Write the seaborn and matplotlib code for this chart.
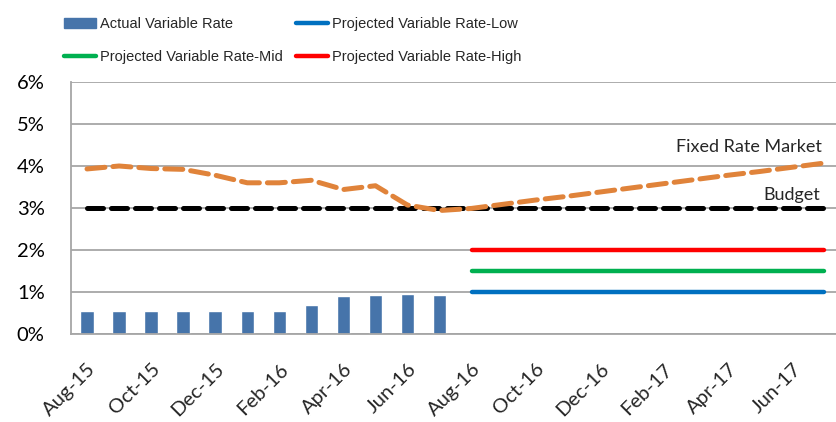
"""Variable vs fixed rate chart"""
import numpy as np
import pandas as pd
import matplotlib
matplotlib.use("Agg")
import matplotlib.pyplot as plt
from matplotlib.patches import Patch
from matplotlib.lines import Line2D
from matplotlib.ticker import FuncFormatter, NullFormatter
import seaborn as sns

# 数据
months = ["Aug-15", "Sep-15", "Oct-15", "Nov-15", "Dec-15", "Jan-16", "Feb-16", "Mar-16",
          "Apr-16", "May-16", "Jun-16", "Jul-16", "Aug-16", "Sep-16", "Oct-16", "Nov-16",
          "Dec-16", "Jan-17", "Feb-17", "Mar-17", "Apr-17", "May-17", "Jun-17", "Jul-17"]
tick_labels = ["Aug-15", "Oct-15", "Dec-15", "Feb-16", "Apr-16", "Jun-16",
               "Aug-16", "Oct-16", "Dec-16", "Feb-17", "Apr-17", "Jun-17"]
actual_rate = [0.55, 0.55, 0.55, 0.55, 0.55, 0.55, 0.55, 0.68, 0.90, 0.92, 0.95, 0.94]
fixed_market = [3.93, 4.00, 3.94, 3.92, 3.78, 3.60, 3.60, 3.66, 3.44, 3.53, 3.07, 2.94,
                2.99, 3.09, 3.19, 3.28, 3.38, 3.48, 3.58, 3.68, 3.78, 3.87, 3.97, 4.07]
budget = [3.0] * 24
proj_low = [1.0] * 12
proj_mid = [1.5] * 12
proj_high = [2.0] * 12

sns.set_style("white")
plt.rcParams['font.family'] = ['Lato', 'DejaVu Sans']

fig = plt.figure(figsize=(8.36, 4.22), dpi=100)
ax = fig.add_axes([71 / 836, 1 - 334 / 422, (836 - 71) / 836, (334 - 82) / 422])

pos = np.arange(len(months)) + 0.5
n_act = len(actual_rate)
bar_df = pd.DataFrame({'x': pos[:n_act], 'rate': actual_rate})

grid_c = '#a6a6a6'
ax.set_axisbelow(True)
ax.yaxis.grid(True, color=grid_c, linewidth=1.3)

sns.barplot(data=bar_df, x='x', y='rate', native_scale=True, width=0.42,
            color='#4674aa', saturation=1, ax=ax, zorder=2)

sns.lineplot(x=pos, y=budget, color='black', linewidth=3.6, ax=ax,
             dashes=False, zorder=3).lines[-1].set(linestyle=(0, (3.2, 1.6)),
                                                   dash_capstyle='round')
ax.plot(pos, fixed_market, color='#e0833a', linewidth=3.6, zorder=4,
        linestyle=(0, (3.6, 1.6)), dash_capstyle='round')

proj_x = pos[n_act:]
for vals, col in [(proj_low, '#0070c0'), (proj_mid, '#00b050'), (proj_high, '#ff0000')]:
    sns.lineplot(x=proj_x, y=vals, color=col, linewidth=3.2, ax=ax, zorder=3)
for l in ax.lines:
    l.set_solid_capstyle('round')

ax.set_xlim(0, (836 - 71) / 32.05)
ax.set_ylim(0, 6)
# 刻度线在类别之间，标签在类别中心
ax.set_xticks(np.arange(0, len(months), 2))
ax.xaxis.set_major_formatter(NullFormatter())
ax.set_xticks(pos[::2], minor=True)
ax.set_xticklabels(tick_labels, minor=True, rotation=45, ha='right', rotation_mode='anchor')
ax.set_yticks(np.arange(0, 7, 1))
ax.yaxis.set_major_formatter(FuncFormatter(lambda v, p: f"{v:.0f}%"))
ax.set_xlabel('')
ax.set_ylabel('')
ax.tick_params(axis='both', which='major', labelsize=14.5, colors='#000000', length=8,
               width=1.3, direction='out', color=grid_c)
ax.tick_params(axis='x', which='minor', labelsize=14.5, length=0, pad=19)
ax.tick_params(axis='y', pad=11)
for s in ['top', 'right']:
    ax.spines[s].set_visible(False)
for s in ['left', 'bottom']:
    ax.spines[s].set_color(grid_c)
    ax.spines[s].set_linewidth(1.3)

ax.text(23.43, 4.45, 'Fixed Rate Market', ha='right', va='center', fontsize=13)
ax.text(23.37, 3.3, 'Budget', ha='right', va='center', fontsize=13)

handles = [Patch(color='#4674aa'),
           Line2D([], [], color='#00b050', linewidth=3.2, solid_capstyle='round'),
           Line2D([], [], color='#0070c0', linewidth=3.2, solid_capstyle='round'),
           Line2D([], [], color='#ff0000', linewidth=3.2, solid_capstyle='round')]
labels = ['Actual Variable Rate', 'Projected Variable Rate-Mid',
          'Projected Variable Rate-Low', 'Projected Variable Rate-High']
fig.legend(handles, labels, ncol=2, loc='upper left', bbox_to_anchor=(64 / 836, 1 - 17 / 422),
           frameon=False, prop={'family': 'Liberation Sans', 'size': 10.5},
           handlelength=2.2, handletextpad=0.28, columnspacing=0.9, labelspacing=1.3,
           borderaxespad=0, borderpad=0)

plt.savefig('out.png', dpi=100)
